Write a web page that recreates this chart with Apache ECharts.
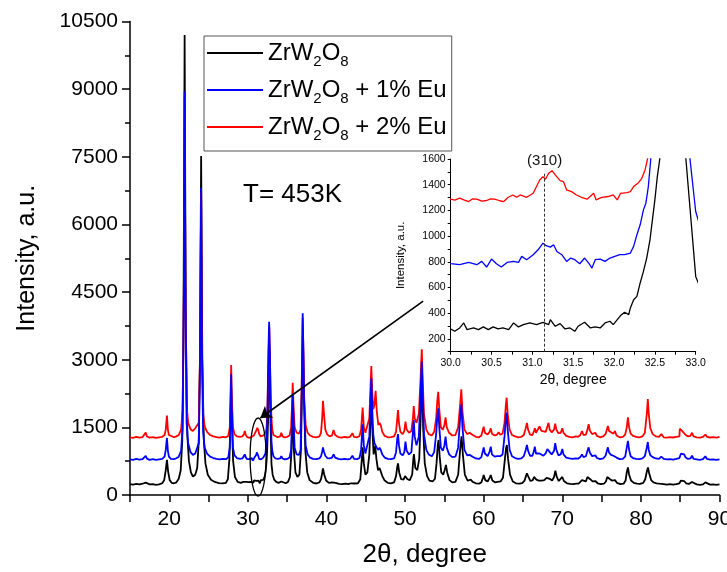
<!DOCTYPE html>
<html>
<head>
<meta charset="utf-8">
<script src="https://cdn.jsdelivr.net/npm/echarts@6/dist/echarts.min.js"></script>
<style>
  html, body { margin: 0; padding: 0; background: #fff; }
  #chart { width: 727px; height: 572px; }
</style>
</head>
<body>
<div id="chart"></div>
<script>
// series names (legend order)
const seriesNames = ['ZrW2O8', 'ZrW2O8 + 1% Eu', 'ZrW2O8 + 2% Eu'];

// [2theta, intensity]; 30-32.5
const pure = [
  [15.0,240],[15.4,230],[15.8,245],[16.2,235],[16.6,250],[16.85,260],[17.0,275],[17.2,255],[17.5,235],[17.9,240],[18.3,225],[18.7,235],
  [19.1,260],[19.35,330],[19.55,550],[19.7,780],[19.85,520],[20.05,330],[20.3,270],[20.6,260],[20.9,280],[21.2,360],[21.45,550],[21.65,1200],
  [21.8,3500],[21.95,10200],[22.1,3800],[22.3,1300],[22.5,750],[22.75,500],[23.0,410],[23.3,450],[23.55,600],[23.75,1200],[23.9,3000],
  [24.05,7515],[24.2,3000],[24.4,1200],[24.6,700],[24.9,450],[25.3,340],[25.8,290],[26.3,265],[26.8,260],[27.2,270],[27.45,350],[27.65,800],
  [27.78,1700],[27.87,2400],[27.97,1600],[28.12,750],[28.35,400],[28.7,290],[29.1,270],[29.4,290],[29.6,330],[29.8,290],
  [30.0,277],[30.05,259],[30.11,285],[30.16,324],[30.2,272],[30.28,285],[30.34,272],[30.4,293],[30.46,272],[30.52,293],[30.58,277],[30.64,285],
  [30.71,272],[30.77,324],[30.83,293],[30.89,311],[30.97,324],[31.05,311],[31.13,329],[31.2,311],[31.22,350],[31.28,298],[31.34,319],[31.4,277],
  [31.46,285],[31.52,259],[31.56,298],[31.64,329],[31.71,285],[31.77,293],[31.83,285],[31.89,324],[31.95,337],[31.99,311],[32.04,350],[32.08,381],
  [32.13,407],[32.18,389],[32.2,441],[32.24,505],[32.28,531],[32.32,635],[32.36,725],[32.4,829],[32.44,971],[32.47,1126],[32.5,1282],[32.53,1463],
  [32.56,1600],[32.64,2700],[32.72,3300],[32.8,2600],[32.88,1600],[33.0,686],[33.15,450],[33.35,340],[33.6,290],[33.9,270],[34.25,300],[34.5,270],
  [34.8,260],[35.1,290],[35.35,400],[35.55,1000],[35.7,1900],[35.85,1000],[36.05,500],[36.3,400],[36.55,450],[36.75,1000],[36.9,2500],[37.0,3500],
  [37.12,2400],[37.3,1000],[37.55,500],[37.85,330],[38.3,270],[38.7,255],[39.1,280],[39.3,350],[39.45,480],[39.55,590],[39.7,460],[39.95,320],
  [40.3,270],[40.7,280],[40.9,320],[41.15,270],[41.6,245],[42.0,240],[42.4,250],[42.8,240],[43.1,260],[43.35,290],[43.6,255],[44.0,260],[44.3,350],
  [44.5,800],[44.6,1057],[44.75,700],[44.95,450],[45.2,500],[45.45,900],[45.6,1700],[45.7,2100],[45.85,1400],[46.0,900],[46.2,1086],[46.35,800],
  [46.55,550],[46.75,600],[46.9,580],[47.1,420],[47.4,320],[47.8,270],[48.2,260],[48.6,280],[48.85,420],[49.0,620],[49.1,702],[49.25,500],
  [49.5,350],[49.8,340],[50.0,420],[50.12,443],[50.3,350],[50.6,330],[50.9,450],[51.05,800],[51.12,909],[51.3,600],[51.55,550],[51.8,800],
  [52.0,1800],[52.15,2600],[52.3,1500],[52.5,700],[52.8,420],[53.1,320],[53.5,300],[53.8,360],[54.0,700],[54.15,1100],[54.26,1220],[54.4,850],
  [54.6,500],[54.85,450],[55.05,560],[55.2,665],[55.35,500],[55.65,330],[56.0,280],[56.4,290],[56.75,450],[57.0,1000],[57.18,1300],[57.35,900],
  [57.6,450],[57.95,320],[58.2,310],[58.35,340],[58.6,290],[59.0,260],[59.4,250],[59.7,280],[59.9,380],[60.0,443],[60.2,330],[60.5,300],
  [60.75,380],[60.9,443],[61.1,320],[61.45,280],[61.75,290],[61.9,320],[62.15,300],[62.45,380],[62.7,800],[62.85,1050],[62.95,1109],[63.1,800],
  [63.35,450],[63.7,300],[64.1,260],[64.5,250],[64.9,265],[65.2,320],[65.4,430],[65.5,480],[65.65,420],[65.95,310],[66.25,330],[66.4,400],
  [66.52,443],[66.7,340],[67.0,320],[67.2,360],[67.4,320],[67.7,330],[68.0,380],[68.2,420],[68.4,360],[68.7,320],[68.95,400],[69.12,540],
  [69.3,400],[69.55,310],[69.8,330],[70.0,400],[70.2,310],[70.6,260],[71.0,245],[71.4,240],[71.8,250],[72.1,255],[72.3,290],[72.5,330],
  [72.7,290],[73.0,300],[73.2,400],[73.35,443],[73.55,350],[73.85,300],[74.05,290],[74.2,310],[74.5,260],[74.9,240],[75.3,250],[75.55,300],
  [75.72,400],[75.82,443],[76.0,360],[76.3,320],[76.55,300],[76.7,330],[76.95,270],[77.4,240],[77.8,250],[78.05,320],[78.2,500],[78.35,610],
  [78.5,450],[78.75,320],[79.1,270],[79.5,250],[79.9,245],[80.3,270],[80.55,350],[80.78,540],[80.9,610],[81.05,480],[81.3,330],[81.6,280],
  [82.0,260],[82.35,250],[82.6,275],[82.9,240],[83.3,230],[83.7,240],[84.1,230],[84.5,240],[84.9,260],[85.1,320],[85.2,330],[85.35,290],
  [85.5,310],[85.75,260],[86.1,245],[86.35,260],[86.5,290],[86.7,250],[87.1,235],[87.5,225],[87.9,235],[88.2,280],[88.45,240],[88.8,230],
  [89.2,235],[89.6,225],[90.0,235]
];

const eu1 = [
  [15.0,790],[15.4,780],[15.8,800],[16.2,785],[16.6,795],[16.85,810],[17.0,870],[17.15,805],[17.5,780],[17.9,795],[18.3,780],[18.7,790],
  [19.1,800],[19.4,850],[19.55,1000],[19.7,1265],[19.82,980],[19.95,850],[20.2,800],[20.6,795],[20.9,815],[21.2,850],[21.5,980],[21.7,1500],
  [21.85,4500],[21.95,8950],[22.05,4800],[22.2,1600],[22.4,1150],[22.7,950],[23.0,890],[23.3,920],[23.4,960],[23.55,930],[23.75,1150],
  [23.9,2800],[24.05,6820],[24.15,3300],[24.3,1400],[24.5,1050],[24.8,920],[25.2,850],[25.6,820],[26.0,800],[26.4,790],[26.8,800],[27.2,795],
  [27.5,830],[27.7,1050],[27.8,2000],[27.87,2680],[27.95,1900],[28.1,1050],[28.3,880],[28.6,820],[29.0,800],[29.3,810],[29.5,850],[29.6,900],
  [29.72,840],[29.9,795],
  [30.0,785],[30.11,777],[30.22,795],[30.32,777],[30.38,803],[30.44,759],[30.5,821],[30.56,785],[30.62,759],[30.69,795],[30.77,803],[30.83,795],
  [30.87,842],[30.93,816],[31.01,855],[31.07,893],[31.13,945],[31.17,925],[31.22,914],[31.26,932],[31.3,880],[31.36,855],[31.42,803],[31.47,829],
  [31.52,816],[31.58,785],[31.64,829],[31.69,790],[31.73,751],[31.77,816],[31.83,821],[31.89,803],[31.95,829],[32.01,842],[32.07,855],[32.13,855],
  [32.2,868],[32.24,920],[32.28,1010],[32.32,1088],[32.36,1204],[32.39,1256],[32.42,1385],[32.45,1600],
  [32.52,2200],[32.6,3100],[32.7,3840],[32.8,3100],[32.88,2100],[32.93,1600],[33.0,1191],[33.1,980],[33.25,860],[33.5,810],[33.8,800],[34.1,810],
  [34.25,860],[34.4,810],[34.7,790],[35.0,800],[35.3,830],[35.5,1000],[35.62,1700],[35.7,2250],[35.8,1700],[35.95,1050],[36.2,900],[36.5,890],
  [36.7,1000],[36.85,2300],[36.97,4030],[37.05,3300],[37.15,2000],[37.35,1100],[37.6,900],[37.9,830],[38.3,800],[38.7,795],[39.1,810],[39.3,860],
  [39.45,960],[39.55,1057],[39.68,960],[39.85,870],[40.1,820],[40.4,810],[40.7,830],[40.9,900],[41.1,830],[41.5,800],[41.9,790],[42.3,800],
  [42.7,790],[43.0,800],[43.3,870],[43.5,800],[43.9,795],[44.2,820],[44.4,1000],[44.6,1570],[44.75,1100],[44.95,920],[45.2,950],[45.45,1300],
  [45.6,2100],[45.7,2590],[45.82,1900],[45.95,1350],[46.1,1150],[46.25,1150],[46.4,1050],[46.6,1000],[46.75,1050],[46.9,1000],[47.1,900],
  [47.4,830],[47.8,800],[48.2,795],[48.6,810],[48.85,950],[49.0,1250],[49.1,1352],[49.22,1100],[49.4,920],[49.7,880],[49.9,950],[50.05,1182],
  [50.2,980],[50.5,900],[50.8,950],[51.0,1400],[51.1,1663],[51.22,1300],[51.45,1100],[51.75,1300],[51.95,2200],[52.12,2960],[52.25,2200],
  [52.4,1350],[52.7,1000],[53.0,900],[53.4,860],[53.7,950],[53.95,1350],[54.1,1750],[54.22,1920],[54.35,1500],[54.55,1050],[54.8,980],
  [55.0,1100],[55.15,1293],[55.3,1050],[55.6,900],[56.0,840],[56.4,850],[56.75,1050],[57.0,1700],[57.15,2010],[57.3,1500],[57.55,1000],
  [57.9,880],[58.2,890],[58.35,930],[58.6,850],[59.0,810],[59.4,800],[59.7,840],[59.9,980],[60.0,1057],[60.15,920],[60.5,860],[60.75,960],
  [60.9,1070],[61.05,900],[61.4,850],[61.7,860],[61.9,900],[62.1,860],[62.4,900],[62.65,1300],[62.82,1700],[62.92,1826],[63.05,1450],
  [63.3,1000],[63.6,860],[64.0,820],[64.4,800],[64.8,810],[65.1,860],[65.35,1000],[65.5,1109],[65.65,980],[65.9,870],[66.2,870],[66.4,980],
  [66.5,1070],[66.65,920],[66.9,880],[67.1,920],[67.2,940],[67.35,880],[67.6,870],[67.9,930],[68.1,1020],[68.25,1057],[68.4,950],[68.65,900],
  [68.95,980],[69.1,1150],[69.25,1000],[69.5,880],[69.8,900],[70.0,1020],[70.15,900],[70.5,830],[70.9,810],[71.3,800],[71.7,810],[72.0,805],
  [72.3,840],[72.5,900],[72.7,840],[73.0,860],[73.2,980],[73.35,1057],[73.5,940],[73.8,860],[74.0,850],[74.2,880],[74.4,820],[74.8,795],
  [75.2,810],[75.5,870],[75.7,1000],[75.8,1057],[75.95,940],[76.2,890],[76.5,870],[76.7,880],[76.9,830],[77.3,795],[77.7,800],[78.0,850],
  [78.2,1050],[78.35,1200],[78.5,1000],[78.7,860],[79.0,820],[79.4,800],[79.8,795],[80.2,810],[80.5,860],[80.75,1050],[80.88,1175],[81.0,1000],
  [81.2,880],[81.5,840],[81.9,810],[82.3,800],[82.6,850],[82.9,800],[83.3,790],[83.7,795],[84.1,785],[84.5,800],[84.9,820],[85.1,920],
  [85.2,940],[85.35,880],[85.5,900],[85.7,830],[86.0,800],[86.3,810],[86.5,870],[86.7,800],[87.1,790],[87.5,780],[87.9,795],[88.2,860],
  [88.4,800],[88.8,785],[89.2,790],[89.6,780],[90.0,790]
];

const eu2 = [
  [15.0,1280],[15.4,1265],[15.8,1290],[16.2,1270],[16.6,1285],[16.85,1300],[17.0,1385],[17.15,1300],[17.5,1270],[17.9,1285],[18.3,1265],
  [18.7,1280],[19.1,1290],[19.4,1330],[19.55,1450],[19.7,1760],[19.82,1450],[19.95,1330],[20.2,1290],[20.6,1280],[20.9,1300],[21.2,1330],
  [21.5,1450],[21.7,1900],[21.85,4500],[21.95,8850],[22.05,4800],[22.2,2000],[22.4,1600],[22.7,1460],[23.0,1420],[23.3,1480],[23.4,1515],
  [23.55,1460],[23.75,1600],[23.9,3000],[24.05,6700],[24.15,3400],[24.3,1800],[24.5,1520],[24.8,1400],[25.2,1330],[25.6,1300],[26.0,1285],
  [26.4,1270],[26.8,1290],[27.2,1280],[27.5,1310],[27.7,1500],[27.8,2300],[27.87,2880],[27.95,2200],[28.1,1500],[28.3,1350],[28.6,1300],
  [29.0,1290],[29.3,1300],[29.5,1350],[29.6,1420],[29.72,1340],[29.9,1285],
  [30.0,1287],[30.05,1280],[30.11,1295],[30.16,1282],[30.22,1269],[30.27,1290],[30.32,1287],[30.38,1272],[30.44,1277],[30.49,1290],[30.54,1287],
  [30.6,1275],[30.65,1269],[30.7,1300],[30.76,1320],[30.81,1302],[30.85,1320],[30.93,1302],[31.01,1333],[31.09,1437],[31.13,1463],[31.16,1442],
  [31.2,1489],[31.24,1509],[31.28,1476],[31.34,1432],[31.38,1424],[31.42,1359],[31.48,1346],[31.54,1320],[31.6,1302],[31.67,1287],[31.75,1333],
  [31.78,1282],[31.85,1302],[31.93,1308],[31.99,1320],[32.04,1282],[32.08,1333],[32.16,1339],[32.2,1346],[32.24,1385],[32.3,1416],[32.34,1450],
  [32.38,1515],[32.41,1600],
  [32.5,1950],[32.6,2850],[32.72,3730],[32.82,2900],[32.92,2100],[33.0,1700],[33.1,1450],[33.25,1330],[33.5,1290],[33.8,1280],[34.1,1300],
  [34.25,1380],[34.4,1300],[34.7,1275],[35.0,1290],[35.3,1320],[35.5,1500],[35.62,2000],[35.7,2490],[35.8,2000],[35.95,1500],[36.2,1380],
  [36.5,1360],[36.7,1450],[36.85,2500],[36.97,3930],[37.05,3300],[37.15,2200],[37.35,1550],[37.6,1380],[37.9,1320],[38.3,1290],[38.7,1280],
  [39.1,1300],[39.3,1380],[39.45,1700],[39.55,2090],[39.68,1800],[39.85,1450],[40.1,1340],[40.4,1300],[40.7,1320],[40.9,1440],[41.1,1330],
  [41.5,1285],[41.9,1270],[42.3,1290],[42.7,1275],[43.0,1290],[43.3,1370],[43.5,1290],[43.9,1280],[44.2,1310],[44.4,1450],[44.6,1940],
  [44.75,1500],[44.95,1380],[45.2,1420],[45.45,1700],[45.6,2400],[45.7,2860],[45.82,2300],[45.95,1900],[46.1,2000],[46.25,2310],[46.4,1850],
  [46.6,1550],[46.75,1600],[46.9,1550],[47.1,1400],[47.4,1310],[47.8,1280],[48.2,1285],[48.6,1300],[48.85,1400],[49.0,1700],[49.1,1885],
  [49.22,1600],[49.4,1400],[49.7,1350],[49.9,1420],[50.05,1625],[50.2,1450],[50.5,1380],[50.8,1420],[51.0,1700],[51.1,1973],[51.22,1700],
  [51.45,1600],[51.75,1800],[51.95,2500],[52.12,3230],[52.25,2500],[52.4,1800],[52.7,1450],[53.0,1350],[53.4,1320],[53.7,1400],[53.95,1700],
  [54.1,2100],[54.22,2290],[54.35,1900],[54.55,1500],[54.8,1450],[55.0,1550],[55.15,1720],[55.3,1500],[55.6,1380],[56.0,1320],[56.4,1330],
  [56.75,1500],[57.0,2000],[57.15,2343],[57.3,1850],[57.55,1450],[57.9,1350],[58.2,1380],[58.35,1420],[58.6,1330],[59.0,1290],[59.4,1280],
  [59.7,1320],[59.9,1450],[60.0,1515],[60.15,1380],[60.5,1340],[60.75,1400],[60.9,1478],[61.05,1360],[61.4,1320],[61.7,1340],[61.9,1390],
  [62.1,1340],[62.4,1360],[62.65,1600],[62.82,2000],[62.92,2158],[63.05,1800],[63.3,1450],[63.6,1330],[64.0,1300],[64.4,1280],[64.8,1290],
  [65.1,1330],[65.35,1480],[65.5,1600],[65.65,1450],[65.9,1340],[66.2,1330],[66.4,1420],[66.5,1480],[66.65,1380],[66.9,1400],[67.1,1520],
  [67.2,1560],[67.35,1420],[67.6,1380],[67.9,1400],[68.1,1520],[68.25,1600],[68.4,1450],[68.65,1390],[68.95,1450],[69.1,1580],[69.25,1450],
  [69.5,1370],[69.8,1380],[70.0,1480],[70.15,1380],[70.5,1310],[70.9,1290],[71.3,1280],[71.7,1300],[72.0,1290],[72.3,1330],[72.5,1420],
  [72.7,1330],[73.0,1340],[73.2,1450],[73.35,1570],[73.5,1430],[73.8,1350],[74.0,1340],[74.2,1380],[74.4,1310],[74.8,1280],[75.2,1300],
  [75.5,1350],[75.7,1470],[75.8,1530],[75.95,1420],[76.2,1380],[76.5,1360],[76.7,1420],[76.9,1320],[77.3,1280],[77.7,1290],[78.0,1340],
  [78.2,1500],[78.35,1720],[78.5,1500],[78.7,1360],[79.0,1310],[79.4,1290],[79.8,1280],[80.2,1300],[80.5,1380],[80.75,1800],[80.88,2130],
  [81.0,1800],[81.2,1480],[81.5,1350],[81.9,1300],[82.3,1290],[82.6,1350],[82.9,1280],[83.3,1270],[83.7,1285],[84.1,1275],[84.5,1290],
  [84.9,1300],[84.95,1470],[85.1,1440],[85.2,1480],[85.35,1400],[85.5,1430],[85.7,1330],[86.0,1300],[86.3,1310],[86.5,1380],[86.7,1300],
  [87.1,1280],[87.5,1270],[87.9,1290],[88.2,1340],[88.4,1290],[88.8,1275],[89.2,1285],[89.6,1270],[90.0,1290]
];

const FONT = 'Arial, "Liberation Sans", sans-serif';

function line(name, data, color, idx, width) {
  return {
    name: name,
    type: 'line',
    xAxisIndex: idx,
    yAxisIndex: idx,
    data: data,
    symbol: 'none',
    smooth: false,
    clip: true,
    lineStyle: { color: color, width: width },
    itemStyle: { color: color },
    animation: false
  };
}

const chart = echarts.init(document.getElementById('chart'), null, { renderer: 'canvas' });

const blackMain = line(seriesNames[0], pure, '#000000', 0, 1.8);
// arrow from the inset to the (310) region
blackMain.markLine = {
  silent: true,
  symbol: ['none', 'arrow'],
  symbolSize: 11,
  label: { show: false },
  lineStyle: { color: '#000', width: 1.6, type: 'solid' },
  data: [[{ coord: [52.3, 4300] }, { coord: [31.58, 1707] }]]
};

const blackInset = line(seriesNames[0], pure, '#000000', 1, 1.3);
blackInset.markLine = {
  silent: true,
  symbol: ['none', 'none'],
  label: {
    show: true, position: 'end', formatter: '(310)', distance: 3,
    fontSize: 15, color: '#111', fontFamily: FONT
  },
  lineStyle: { color: '#333', width: 1, type: [3, 2] },
  data: [[{ coord: [31.15, 100] }, { coord: [31.15, 1500] }]]
};

const option = {
  backgroundColor: '#fff',
  animation: false,
  textStyle: { fontFamily: FONT },
  grid: [
    { left: 130, right: 7.5, top: 21.5, bottom: 77, outerBoundsMode: 'none' },
    { left: 450.7, right: 31.3, top: 159, bottom: 220.3, outerBoundsMode: 'none' }
  ],
  legend: {
    orient: 'vertical',
    left: 204,
    top: 36,
    padding: [5, 5, 8, 3],
    itemGap: 9,
    itemWidth: 56,
    itemHeight: 2,
    icon: 'rect',
    borderColor: '#555',
    borderWidth: 1,
    data: seriesNames,
    formatter: function (name) {
      return name.replace('W2O8', 'W{s|2}O{s|8}');
    },
    textStyle: {
      fontSize: 24,
      color: '#000',
      fontFamily: FONT,
      rich: { s: { fontSize: 15, color: '#000', fontFamily: FONT, padding: [17, 0, 0, 0] } }
    }
  },
  xAxis: [
    {
      type: 'value', gridIndex: 0, min: 15, max: 90, interval: 5,
      name: '2θ, degree', nameLocation: 'middle', nameGap: 47,
      nameTextStyle: { fontSize: 26, color: '#000', fontFamily: FONT },
      axisLine: { show: true, lineStyle: { color: '#000', width: 1.5 } },
      axisTick: { show: true, length: 7, lineStyle: { color: '#000', width: 1.5 } },
      axisLabel: {
        fontSize: 21, color: '#000', margin: 14,
        formatter: function (v) { return v % 10 === 0 ? String(v) : ''; }
      },
      splitLine: { show: false }
    },
    {
      type: 'value', gridIndex: 1, min: 30, max: 33, interval: 0.5,
      name: '2θ, degree', nameLocation: 'middle', nameGap: 21,
      nameTextStyle: { fontSize: 14, color: '#000', fontFamily: FONT },
      axisLine: { show: true, lineStyle: { color: '#000', width: 1 } },
      axisTick: { show: true, length: 3, lineStyle: { color: '#000' } },
      minorTick: { show: true, splitNumber: 2, length: 3, lineStyle: { color: '#000' } },
      axisLabel: {
        fontSize: 10.5, color: '#000', margin: 6,
        formatter: function (v) { return v.toFixed(1); }
      },
      splitLine: { show: false }
    }
  ],
  yAxis: [
    {
      type: 'value', gridIndex: 0, min: 0, max: 10500, interval: 1500,
      name: 'Intensity, a.u.', nameLocation: 'middle', nameGap: 90,
      nameTextStyle: { fontSize: 25, color: '#000', fontFamily: FONT },
      axisLine: { show: true, lineStyle: { color: '#000', width: 1.5 } },
      axisTick: { show: true, length: 8, lineStyle: { color: '#000', width: 1.5 } },
      minorTick: { show: true, splitNumber: 2, length: 5, lineStyle: { color: '#000', width: 1.5 } },
      axisLabel: {
        fontSize: 21, color: '#000', margin: 12,
        formatter: function (v) { return String(v); }
      },
      splitLine: { show: false }
    },
    {
      type: 'value', gridIndex: 1, min: 100, max: 1600, interval: 100,
      name: 'Intensity, a.u.', nameLocation: 'middle', nameGap: 44,
      nameTextStyle: { fontSize: 11.5, color: '#000', fontFamily: FONT },
      axisLine: { show: true, lineStyle: { color: '#000', width: 1 } },
      axisTick: { show: true, length: 3, lineStyle: { color: '#000' } },
      axisLabel: {
        fontSize: 10.5, color: '#000', margin: 5,
        formatter: function (v) { return v % 200 === 0 ? String(v) : ''; }
      },
      splitLine: { show: false }
    }
  ],
  series: [
    blackMain,
    line(seriesNames[2], eu2, '#ff0000', 0, 1.8),
    line(seriesNames[1], eu1, '#0000ff', 0, 1.8),
    blackInset,
    line(seriesNames[2], eu2, '#ff0000', 1, 1.3),
    line(seriesNames[1], eu1, '#0000ff', 1, 1.3)
  ]
};

chart.setOption(option);

// temperature note and an ellipse round the (310) peak, placed through the main grid's scales
const c = chart.convertToPixel({ xAxisIndex: 0, yAxisIndex: 0 }, [31.3, 843]);
const e = chart.convertToPixel({ xAxisIndex: 0, yAxisIndex: 0 }, [32.32, 1708]);
chart.setOption({
  graphic: [
    {
      type: 'text', left: 243, top: 182,
      style: { text: 'T= 453K', fontSize: 26, fill: '#000', fontFamily: FONT }
    },
    {
      type: 'ellipse',
      shape: { cx: c[0], cy: c[1], rx: Math.abs(e[0] - c[0]), ry: Math.abs(c[1] - e[1]) },
      style: { fill: 'none', stroke: '#000', lineWidth: 1.3 },
      silent: true,
      z: 10
    }
  ]
});
</script>
</body>
</html>
